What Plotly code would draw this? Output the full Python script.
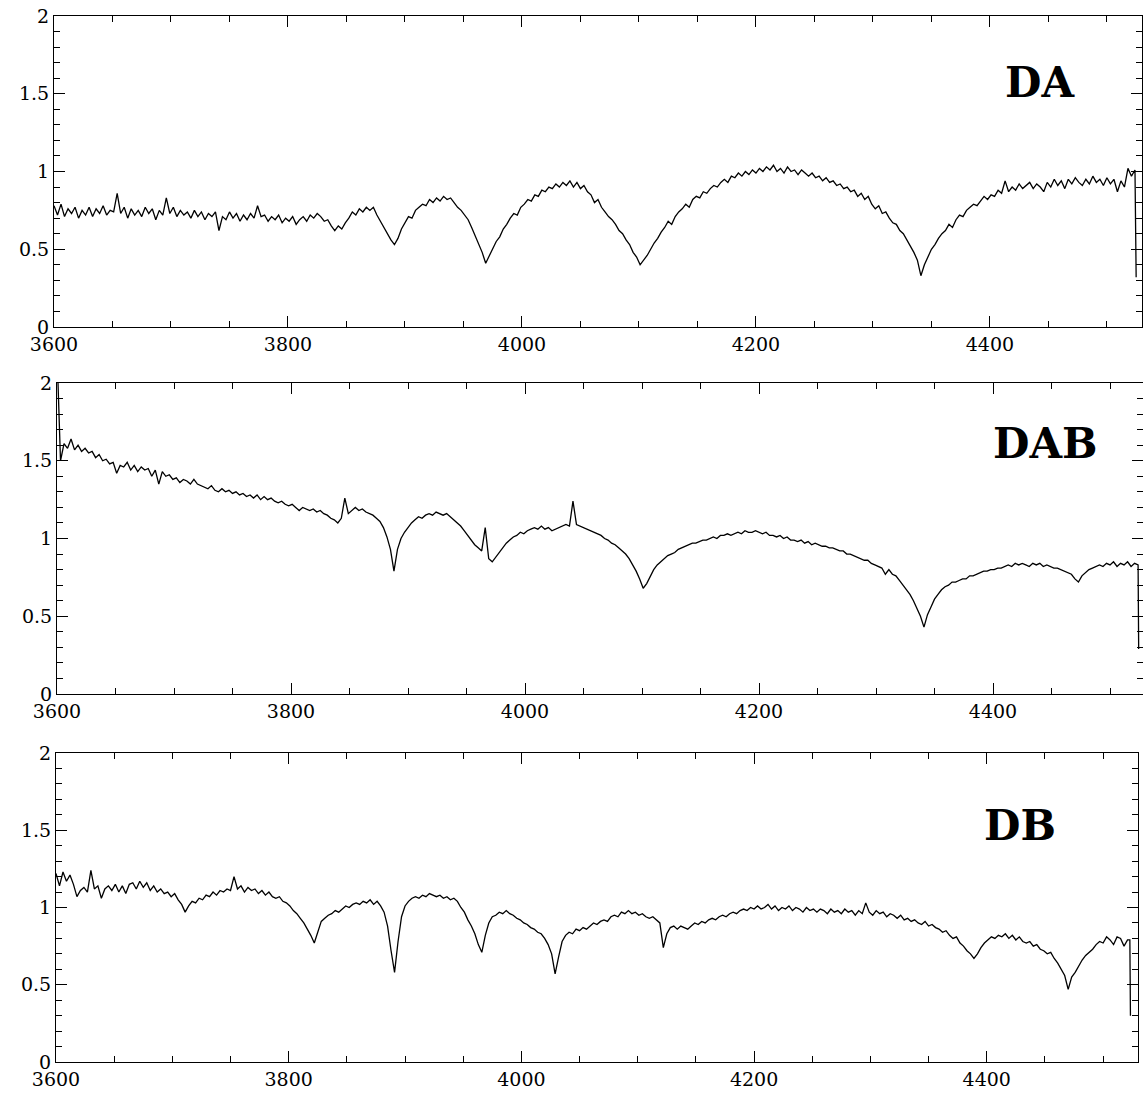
import plotly.graph_objects as go

wl_start = 3600
wl_step = 3

# ---------------- DA spectrum (3600, 3603, ... ) ----------------
da_flux = [
    0.78, 0.72, 0.79, 0.71, 0.76, 0.73, 0.77, 0.70, 0.75, 0.72,
    0.77, 0.71, 0.76, 0.73, 0.78, 0.72, 0.75, 0.74, 0.86, 0.73,
    0.77, 0.70, 0.76, 0.72, 0.75, 0.71, 0.77, 0.73, 0.76, 0.69,
    0.75, 0.72, 0.83, 0.73, 0.77, 0.71, 0.75, 0.72, 0.74, 0.70,
    0.75, 0.71, 0.74, 0.69, 0.73, 0.71, 0.74, 0.62, 0.71, 0.69,
    0.74, 0.70, 0.73, 0.68, 0.72, 0.69, 0.73, 0.70, 0.78, 0.71,
    0.72, 0.68, 0.71, 0.69, 0.72, 0.67, 0.70, 0.68, 0.71, 0.66,
    0.69, 0.71, 0.68, 0.72, 0.70, 0.73, 0.71, 0.68, 0.69, 0.65,
    0.62, 0.65, 0.63, 0.67, 0.70, 0.74, 0.72, 0.76, 0.74, 0.77,
    0.75, 0.77, 0.72, 0.68, 0.64, 0.60, 0.56, 0.53, 0.57, 0.63,
    0.67, 0.71, 0.70, 0.75, 0.77, 0.79, 0.78, 0.82, 0.80, 0.83,
    0.81, 0.84, 0.82, 0.83, 0.80, 0.77, 0.75, 0.72, 0.69, 0.64,
    0.59, 0.54, 0.48, 0.41, 0.46, 0.50, 0.55, 0.58, 0.63, 0.66,
    0.70, 0.73, 0.72, 0.77, 0.79, 0.82, 0.81, 0.85, 0.84, 0.88,
    0.87, 0.90, 0.89, 0.92, 0.90, 0.93, 0.91, 0.94, 0.90, 0.93,
    0.89, 0.91, 0.87, 0.85, 0.80, 0.82, 0.77, 0.74, 0.71, 0.69,
    0.66, 0.62, 0.60, 0.56, 0.53, 0.48, 0.45, 0.40, 0.43, 0.46,
    0.50, 0.54, 0.57, 0.61, 0.64, 0.68, 0.66, 0.71, 0.74, 0.76,
    0.79, 0.77, 0.82, 0.84, 0.83, 0.87, 0.86, 0.89, 0.91, 0.90,
    0.93, 0.95, 0.93, 0.97, 0.96, 0.99, 0.97, 1.00, 0.98, 1.01,
    0.99, 1.02, 1.00, 1.03, 1.01, 1.04, 1.00, 1.02, 0.99, 1.03,
    1.00, 1.01, 0.98, 1.01, 0.99, 0.97, 0.99, 0.96, 0.97, 0.94,
    0.96, 0.93, 0.94, 0.91, 0.92, 0.89, 0.90, 0.87, 0.88, 0.84,
    0.86, 0.82, 0.84, 0.79, 0.76, 0.78, 0.73, 0.74, 0.70, 0.67,
    0.66, 0.62, 0.60, 0.56, 0.52, 0.48, 0.43, 0.33, 0.40, 0.45,
    0.50, 0.53, 0.57, 0.60, 0.62, 0.66, 0.64, 0.69, 0.72, 0.71,
    0.75, 0.77, 0.79, 0.78, 0.81, 0.84, 0.82, 0.85, 0.84, 0.88,
    0.86, 0.94, 0.87, 0.90, 0.88, 0.92, 0.89, 0.91, 0.93, 0.89,
    0.92, 0.90, 0.87, 0.93, 0.90, 0.95, 0.91, 0.94, 0.89, 0.95,
    0.92, 0.96, 0.93, 0.91, 0.95, 0.92, 0.97, 0.93, 0.95, 0.91,
    0.96, 0.92, 0.95, 0.87, 0.94, 0.90, 1.02, 0.97, 1.01,
]
da_tail_wl = [4525]
da_tail_flux = [0.32]

# ---------------- DAB spectrum ----------------
dab_flux = [
    2.20, 1.50, 1.61, 1.58, 1.64, 1.57, 1.60, 1.56, 1.58, 1.55,
    1.56, 1.52, 1.54, 1.50, 1.51, 1.48, 1.49, 1.42, 1.47, 1.46,
    1.49, 1.44, 1.47, 1.43, 1.46, 1.44, 1.45, 1.40, 1.44, 1.35,
    1.43, 1.40, 1.41, 1.38, 1.39, 1.36, 1.38, 1.37, 1.35, 1.38,
    1.35, 1.34, 1.33, 1.32, 1.34, 1.31, 1.30, 1.32, 1.30, 1.31,
    1.29, 1.30, 1.28, 1.29, 1.27, 1.28, 1.26, 1.28, 1.25, 1.27,
    1.25, 1.26, 1.24, 1.23, 1.24, 1.22, 1.21, 1.22, 1.20, 1.18,
    1.20, 1.19, 1.18, 1.19, 1.17, 1.18, 1.16, 1.15, 1.13, 1.12,
    1.10, 1.13, 1.26, 1.16, 1.18, 1.20, 1.18, 1.19, 1.17, 1.16,
    1.15, 1.13, 1.11, 1.07, 1.01, 0.93, 0.79, 0.93, 1.00, 1.04,
    1.07, 1.10, 1.12, 1.14, 1.13, 1.15, 1.16, 1.15, 1.17, 1.16,
    1.15, 1.16, 1.14, 1.12, 1.10, 1.08, 1.05, 1.02, 0.99, 0.96,
    0.94, 0.92, 1.07, 0.87, 0.85, 0.88, 0.91, 0.94, 0.97, 0.99,
    1.01, 1.02, 1.04, 1.03, 1.05, 1.06, 1.07, 1.06, 1.08, 1.06,
    1.07, 1.05, 1.06, 1.07, 1.08, 1.09, 1.08, 1.24, 1.09, 1.08,
    1.07, 1.06, 1.05, 1.04, 1.03, 1.02, 1.00, 0.99, 0.97, 0.96,
    0.94, 0.92, 0.90, 0.87, 0.83, 0.79, 0.74, 0.68, 0.71, 0.76,
    0.80, 0.83, 0.85, 0.87, 0.89, 0.90, 0.91, 0.93, 0.94, 0.95,
    0.96, 0.97, 0.97, 0.98, 0.99, 0.99, 1.00, 1.01, 1.00, 1.02,
    1.02, 1.03, 1.02, 1.03, 1.04, 1.03, 1.05, 1.04, 1.04, 1.05,
    1.04, 1.03, 1.04, 1.02, 1.02, 1.01, 1.02, 1.00, 1.01, 0.99,
    0.99, 0.98, 0.99, 0.97, 0.98, 0.96, 0.97, 0.96, 0.95, 0.95,
    0.94, 0.94, 0.93, 0.92, 0.92, 0.90, 0.90, 0.89, 0.88, 0.87,
    0.86, 0.86, 0.84, 0.83, 0.82, 0.81, 0.77, 0.80, 0.77, 0.76,
    0.73, 0.70, 0.67, 0.64, 0.60, 0.55, 0.50, 0.43, 0.51, 0.56,
    0.61, 0.64, 0.67, 0.69, 0.70, 0.72, 0.72, 0.73, 0.74, 0.74,
    0.76, 0.76, 0.77, 0.78, 0.79, 0.79, 0.80, 0.80, 0.81, 0.81,
    0.82, 0.83, 0.82, 0.84, 0.83, 0.84, 0.83, 0.82, 0.84, 0.83,
    0.84, 0.82, 0.83, 0.82, 0.81, 0.81, 0.80, 0.79, 0.78, 0.77,
    0.74, 0.72, 0.76, 0.78, 0.80, 0.81, 0.82, 0.83, 0.82, 0.84,
    0.83, 0.85, 0.82, 0.84, 0.83, 0.85, 0.82, 0.84, 0.83,
]
dab_tail_wl = [4524.5]
dab_tail_flux = [0.29]

# ---------------- DB spectrum ----------------
db_flux = [
    1.22, 1.14, 1.23, 1.17, 1.21, 1.15, 1.07, 1.11, 1.13, 1.10,
    1.24, 1.12, 1.14, 1.06, 1.12, 1.14, 1.11, 1.15, 1.10, 1.14,
    1.09, 1.15, 1.16, 1.12, 1.17, 1.13, 1.16, 1.11, 1.14, 1.10,
    1.12, 1.09, 1.10, 1.07, 1.09, 1.05, 1.02, 0.97, 1.01, 1.04,
    1.03, 1.06, 1.05, 1.08, 1.07, 1.10, 1.08, 1.11, 1.10, 1.12,
    1.11, 1.20, 1.12, 1.14, 1.10, 1.13, 1.11, 1.12, 1.09, 1.11,
    1.08, 1.10, 1.07, 1.06, 1.07, 1.04, 1.03, 1.01, 0.98, 0.96,
    0.93, 0.90, 0.86, 0.82, 0.77, 0.84, 0.91, 0.93, 0.95, 0.96,
    0.98, 0.97, 0.99, 1.01, 1.00, 1.02, 1.03, 1.02, 1.04, 1.03,
    1.05, 1.02, 1.04, 1.01, 0.97, 0.88, 0.72, 0.58, 0.78, 0.94,
    1.01, 1.04, 1.06, 1.07, 1.06, 1.08, 1.07, 1.09, 1.08, 1.07,
    1.08, 1.06, 1.07, 1.05, 1.06, 1.04, 1.00, 0.97, 0.92, 0.88,
    0.83, 0.76, 0.71, 0.82, 0.90, 0.94, 0.95, 0.97, 0.96, 0.98,
    0.96, 0.95, 0.93, 0.92, 0.90, 0.89, 0.87, 0.86, 0.84, 0.83,
    0.80, 0.76, 0.70, 0.57, 0.68, 0.78, 0.82, 0.84, 0.83, 0.86,
    0.85, 0.87, 0.86, 0.88, 0.90, 0.89, 0.91, 0.92, 0.91, 0.94,
    0.95, 0.94, 0.97, 0.96, 0.98, 0.96, 0.97, 0.95, 0.96, 0.94,
    0.93, 0.94, 0.92, 0.90, 0.74, 0.83, 0.87, 0.88, 0.86, 0.88,
    0.87, 0.86, 0.88, 0.90, 0.89, 0.91, 0.90, 0.92, 0.93, 0.92,
    0.94, 0.95, 0.94, 0.96, 0.97, 0.96, 0.98, 0.99, 0.98, 1.00,
    0.99, 1.01, 0.99, 1.00, 1.02, 0.99, 1.01, 0.98, 1.00, 0.99,
    1.01, 0.98, 1.00, 0.99, 0.97, 1.00, 0.98, 0.99, 0.97, 0.99,
    0.98, 0.96, 0.99, 0.97, 0.98, 0.96, 0.99, 0.97, 0.98, 0.95,
    0.98, 0.96, 1.03, 0.97, 0.95, 0.98, 0.96, 0.97, 0.94, 0.96,
    0.95, 0.93, 0.95, 0.92, 0.93, 0.91, 0.92, 0.90, 0.89, 0.91,
    0.88, 0.89, 0.87, 0.86, 0.84, 0.85, 0.82, 0.80, 0.81, 0.77,
    0.75, 0.72, 0.70, 0.67, 0.70, 0.74, 0.77, 0.79, 0.81, 0.80,
    0.82, 0.81, 0.83, 0.80, 0.82, 0.79, 0.81, 0.78, 0.77, 0.78,
    0.75, 0.76, 0.73, 0.72, 0.70, 0.71, 0.67, 0.64, 0.60, 0.56,
    0.47, 0.55, 0.58, 0.62, 0.66, 0.69, 0.71, 0.73, 0.76, 0.78,
    0.77, 0.81, 0.79, 0.76, 0.81, 0.80, 0.75, 0.79,
]
db_tail_wl = [4523, 4523.5]
db_tail_flux = [0.79, 0.30]

labels = ["DA", "DAB", "DB"]
y_ticks = [0, 0.5, 1, 1.5, 2]
y_tick_text = ["0", "0.5", "1", "1.5", "2"]
x_ticks = [3600, 3800, 4000, 4200, 4400]
x_tick_text = ["3600", "3800", "4000", "4200", "4400"]


def grid(flux):
    return [wl_start + wl_step * i for i in range(len(flux))]


series = [
    (grid(da_flux) + da_tail_wl, da_flux + da_tail_flux),
    (grid(dab_flux) + dab_tail_wl, dab_flux + dab_tail_flux),
    (grid(db_flux) + db_tail_wl, db_flux + db_tail_flux),
]

W, H = 1143, 1097
# pixel boxes for each panel: (left, right, top, bottom, x-range end)
boxes = [(54, 1142, 16, 327, 4530), (57, 1143, 383, 694, 4528.2), (56, 1138, 753, 1062, 4530)]
label_pos = [(1040, 83), (1045, 443), (1020, 825)]

fig = go.Figure()
tickfont = dict(family="DejaVu Serif", size=19, color="black")

for i, ((wl, fl), (l, r, t, b, xmax)) in enumerate(zip(series, boxes)):
    n = "" if i == 0 else str(i + 1)
    fig.add_trace(go.Scatter(x=wl, y=fl, mode="lines", xaxis="x" + n, yaxis="y" + n,
                             line=dict(color="black", width=1.3), showlegend=False,
                             hoverinfo="skip"))
    fig.layout["xaxis" + n] = dict(
        domain=[l / W, min(r / W, 1.0)], range=[3600, xmax], anchor="y" + n,
        automargin=False,
        showline=True, linecolor="black", linewidth=1, mirror="ticks",
        ticks="inside", ticklen=11, tickwidth=1, tickcolor="black",
        tickvals=x_ticks, ticktext=x_tick_text, tickfont=tickfont,
        showgrid=False, zeroline=False,
        minor=dict(ticks="inside", ticklen=6, dtick=50, tick0=3600, tickcolor="black",
                   tickwidth=1, showgrid=False),
    )
    fig.layout["yaxis" + n] = dict(
        domain=[1 - b / H, 1 - t / H], range=[0, 2], anchor="x" + n,
        automargin=False,
        showline=True, linecolor="black", linewidth=1, mirror="ticks",
        ticks="inside", ticklen=11, tickwidth=1, tickcolor="black",
        tickvals=y_ticks, ticktext=y_tick_text, tickfont=tickfont,
        showgrid=False, zeroline=False,
        minor=dict(ticks="inside", ticklen=6, dtick=0.1, tick0=0, tickcolor="black",
                   tickwidth=1, showgrid=False),
    )
    lx, ly = label_pos[i]
    fig.add_annotation(x=lx / W, y=1 - ly / H, xref="paper", yref="paper",
                       text="<b>" + labels[i] + "</b>", showarrow=False,
                       xanchor="center", yanchor="middle",
                       font=dict(family="DejaVu Serif", size=42, color="black"))

fig.update_layout(width=W, height=H, margin=dict(l=0, r=0, t=0, b=0),
                  paper_bgcolor="white", plot_bgcolor="white", showlegend=False)

fig.write_html("out.html")
